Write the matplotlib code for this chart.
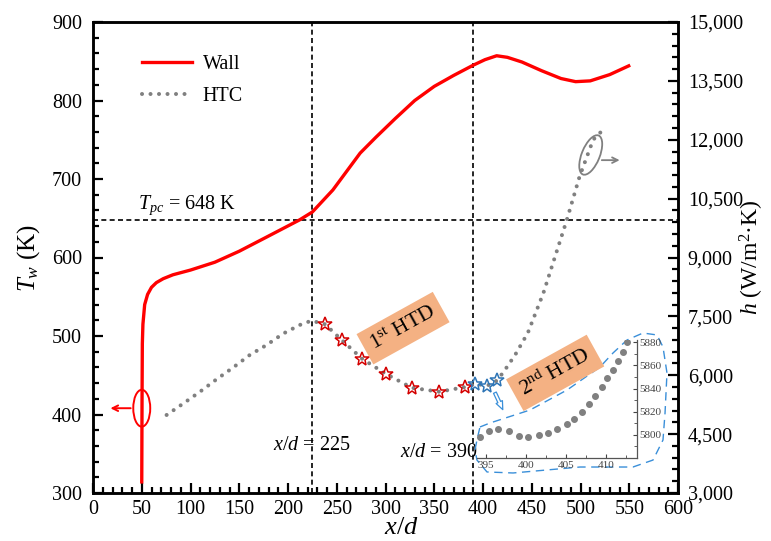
import matplotlib
matplotlib.use('Agg')
import matplotlib.pyplot as plt
from matplotlib.patches import Ellipse
from matplotlib.lines import Line2D
from matplotlib.transforms import IdentityTransform
from matplotlib.ticker import MultipleLocator, FuncFormatter

plt.rcParams['font.family'] = ['Liberation Serif', 'DejaVu Serif']
plt.rcParams['mathtext.fontset'] = 'custom'
plt.rcParams['mathtext.rm'] = 'Liberation Serif'
plt.rcParams['mathtext.it'] = 'Liberation Serif:italic'
plt.rcParams['mathtext.bf'] = 'Liberation Serif:bold'

# ---------------- data ----------------
wall_x = [50, 50.3, 50.6, 51.2, 53, 56, 60, 65, 72, 82, 100, 125, 150, 178, 212, 225,
          246, 274, 290, 310, 330, 350, 370, 390, 402, 414, 425, 440, 460, 480, 495,
          510, 530, 551]
wall_T = [312, 420, 490, 515, 540, 553, 562, 568, 573, 578, 584, 594, 608, 626, 648, 658,
          686, 733, 753, 777, 800, 818, 832, 845, 852, 857, 855, 849, 838, 828, 824,
          825, 833, 845]

htc_x = [75.5, 92.6, 109.7, 126.9, 143.9, 161, 178, 195, 212, 224, 238, 255, 276, 300,
         327, 355, 382, 393, 404, 414, 421, 433, 446, 462, 486, 499, 513, 525]
htc_h = [4988, 5280, 5580, 5900, 6200, 6520, 6770, 7060, 7280, 7390, 7300, 6900, 6420,
         6040, 5680, 5580, 5700, 5780, 5730, 5860, 6080, 6520, 7080, 8100, 9960, 11060,
         12000, 12300]

htd1_x = [238, 255, 276, 300, 327, 355, 382]
htd1_h = [7300, 6900, 6420, 6040, 5680, 5580, 5700]
htd2_x = [392, 403.8, 414]
htd2_h = [5778, 5726, 5880]

inset_x = [394.25, 395.4, 396.5, 397.9, 399.2, 400.3, 401.6, 402.8, 403.9, 405.2, 406.0,
           407.0, 407.9, 408.7, 409.5, 410.2, 410.9, 411.5, 412.2, 412.6]
inset_h = [5798, 5803, 5805, 5803, 5799, 5798, 5800, 5802, 5805, 5809, 5814,
           5820, 5827, 5834, 5841, 5849, 5856, 5864, 5872, 5880]

x_ticks = [0, 50, 100, 150, 200, 250, 300, 350, 400, 450, 500, 550, 600]
T_ticks = [300, 400, 500, 600, 700, 800, 900]
h_ticks = [3000, 4500, 6000, 7500, 9000, 10500, 12000, 13500, 15000]
inset_xticks = [395, 400, 405, 410]
inset_hticks = [5800, 5820, 5840, 5860, 5880]

T_pc = 648
x_lines = [225, 390]

RED = '#FF0000'
GRAY = '#808080'
BLUE = '#3A8FD9'
ORANGE = '#F4B183'

# ---------------- figure ----------------
fig = plt.figure(figsize=(7.71, 5.41), dpi=100)
ax = fig.add_axes([93 / 771, 48 / 541, 585 / 771, 471 / 541])
ax2 = ax.twinx()

ax.set_xlim(0, 600)
ax.set_ylim(300, 900)
ax2.set_ylim(3000, 15000)

# reference lines
for xv in x_lines:
    ax.axvline(xv, color='black', lw=1.2, ls=(0, (3, 2)), zorder=1)
ax.axhline(T_pc, color='black', lw=1.2, ls=(0, (3, 2)), zorder=1)

# wall temperature
ax.plot(wall_x, wall_T, color=RED, lw=2.4, solid_capstyle='butt',
        solid_joinstyle='round', zorder=3)

# HTC dotted curve
dot_style = dict(color=GRAY, lw=2.9, ls=(0, (0.01, 2.1)), dash_capstyle='round')
ax2.plot(htc_x, htc_h, **dot_style, zorder=2)
ax2.plot(htd1_x, htd1_h, ls='none', marker='*', ms=10, mfc='none', mec='#D40000',
         mew=1.1, zorder=4)
ax2.plot(htd2_x, htd2_h, ls='none', marker='*', ms=10, mfc='none', mec='#2E75B6',
         mew=1.1, zorder=4)

# ticks
ax.set_xticks(x_ticks)
ax.set_yticks(T_ticks)
ax2.set_yticks(h_ticks)
ax.xaxis.set_minor_locator(MultipleLocator(10))
ax.yaxis.set_minor_locator(MultipleLocator(20))
ax2.yaxis.set_minor_locator(MultipleLocator(300))
ax2.yaxis.set_major_formatter(FuncFormatter(lambda v, p: f'{int(v):,}'))

ax.tick_params(which='both', direction='in', top=False, right=False, width=1.6,
               labelsize=14.5)
ax.tick_params(which='major', length=7)
ax.tick_params(which='minor', length=4)
ax.tick_params(axis='y', pad=8)
ax.tick_params(axis='x', pad=5)
ax2.tick_params(which='both', direction='in', width=1.6, labelsize=14.5, pad=7)
ax2.tick_params(which='major', length=7)
ax2.tick_params(which='minor', length=4)
for a in (ax, ax2):
    for s in a.spines.values():
        s.set_linewidth(1.8)

ax.set_xlabel('$x/d$', fontsize=19)
ax.xaxis.set_label_coords(0.527, -0.051)
ax.set_ylabel('$T_w$ (K)', fontsize=18)
ax.yaxis.set_label_coords(-0.087, 0.5)
ax2.set_ylabel('$h$ (W/m$^2$·K)', fontsize=17)
ax2.yaxis.set_label_coords(1.103, 0.5)

# legend
handles = [Line2D([], [], color=RED, lw=2.4),
           Line2D([], [], **dot_style)]
ax.legend(handles, ['Wall', 'HTC'], loc='upper left', bbox_to_anchor=(0.084, 0.93),
          frameon=False, fontsize=14.5, handlelength=2.5, handletextpad=0.5,
          labelspacing=0.65, borderpad=0, borderaxespad=0)

# text annotations
ax.text(46, 666, '$T_{pc}$ = 648 K', fontsize=14.5, ha='left', va='center')
ax.text(224, 360, '$x/d$ = 225', fontsize=14.5, ha='center', va='center')
ax.text(394, 352, '$x/d$ = 390', fontsize=14.5, ha='right', va='center')

box = dict(boxstyle='square,pad=0.35', fc=ORANGE, ec='none')
ax.text(318, 510, '1$^{\\mathrm{st}}$ HTD', fontsize=15.5, rotation=29, ha='center',
        va='center', rotation_mode='anchor', bbox=box, zorder=5)
ax.text(474, 453, '2$^{\\mathrm{nd}}$ HTD', fontsize=15.5, rotation=29, ha='center',
        va='center', rotation_mode='anchor', bbox=box, zorder=5)

# red ellipse + arrow (wall -> left axis)
ax.add_patch(Ellipse((50, 408), 17.4, 47, fc='none', ec=RED, lw=1.4, zorder=4))
ax.annotate('', xy=(15, 408), xytext=(41.5, 408),
            arrowprops=dict(arrowstyle='->', color=RED, lw=1.4))

# gray ellipse + arrow (HTC -> right axis)
cx, cy = ax.transData.transform((510.5, 730.6))
ax.add_patch(Ellipse((cx, cy), 42, 18, angle=68, fc='none', ec=GRAY, lw=1.3,
                     transform=IdentityTransform(), zorder=4))
ax.annotate('', xy=(543, 724), xytext=(519, 724),
            arrowprops=dict(arrowstyle='->', color=GRAY, lw=1.3))

# blue hollow arrow towards inset
ax.annotate('', xy=(421.5, 403), xytext=(411, 431),
            arrowprops=dict(arrowstyle='simple,head_width=0.5,head_length=0.6,tail_width=0.22',
                            fc='white', ec=BLUE, lw=0.9))

# blue dashed outline around inset
outline = [(396.9, 384.1), (407.2, 389.2), (448.2, 405.7), (486.2, 431.2), (520.0, 460.5),
           (533.3, 478.3), (547.7, 494.9), (564.1, 503.8), (578.5, 501.3), (584.6, 486.0),
           (588.7, 452.9), (586.7, 401.9), (584.6, 367.5), (574.4, 342.0), (553.8, 333.1),
           (499.5, 333.1), (430.8, 325.5), (404.1, 326.8), (393.8, 342.0), (391.8, 354.8),
           (393.8, 367.5), (396.9, 384.1)]
ax.plot([p[0] for p in outline], [p[1] for p in outline], color=BLUE, lw=1.0,
        ls=(0, (6, 4)), zorder=4)

# inset
axi = fig.add_axes([477 / 771, 83 / 541, 160 / 771, 118 / 541])
axi.patch.set_alpha(0)
axi.plot(inset_x, inset_h, ls='none', marker='o', ms=4, color=GRAY)
axi.set_xlim(393.9, 413.9)
axi.set_ylim(5780, 5882)
axi.set_xticks(inset_xticks)
axi.set_yticks(inset_hticks)
axi.xaxis.set_minor_locator(MultipleLocator(2.5))
axi.yaxis.set_minor_locator(MultipleLocator(10))
axi.spines['left'].set_visible(False)
axi.spines['top'].set_visible(False)
for s in ('right', 'bottom'):
    axi.spines[s].set_color('#555555')
    axi.spines[s].set_linewidth(0.9)
axi.yaxis.tick_right()
axi.tick_params(which='both', direction='in', labelsize=8, colors='#444444',
                left=False, top=False, pad=2)
axi.tick_params(which='major', length=3)
axi.tick_params(which='minor', length=2)

fig.savefig('out.png', dpi=100)
